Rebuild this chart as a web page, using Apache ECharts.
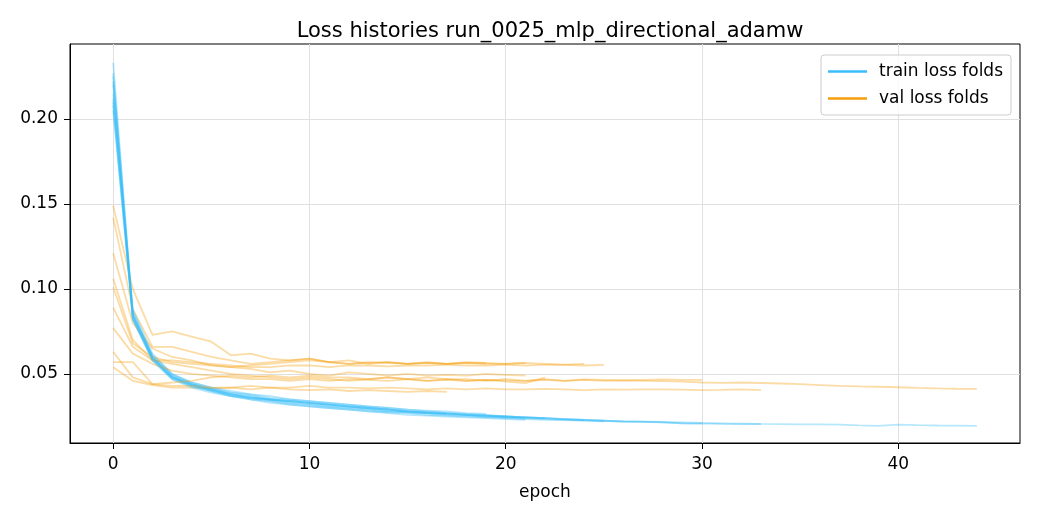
<!DOCTYPE html>
<html>
<head>
    <meta charset="utf-8"/>
    <title>Loss histories</title>
    <script src="https://cdn.jsdelivr.net/npm/echarts@6/dist/echarts.min.js"></script>
    <style>
        html, body { margin: 0; padding: 0; background: #fff; }
        #chart { width: 1040px; height: 520px; }
    </style>
</head>
<body>
<div id="chart"></div>
<script type="text/javascript">
    // per-fold loss histories, index = epoch
    var trainFolds = [
        [0.215, 0.086, 0.060, 0.049, 0.044, 0.041, 0.038, 0.036, 0.035, 0.033, 0.032, 0.031, 0.030, 0.029, 0.028, 0.0275, 0.027, 0.0265],
        [0.233, 0.084, 0.061, 0.050, 0.045, 0.042, 0.040, 0.038, 0.037, 0.035, 0.034, 0.033, 0.032, 0.031, 0.030, 0.029, 0.0285, 0.028, 0.027, 0.0265],
        [0.227, 0.083, 0.059, 0.048, 0.044, 0.041, 0.038, 0.037, 0.035, 0.034, 0.033, 0.032, 0.031, 0.030, 0.029, 0.028, 0.027, 0.0265, 0.026, 0.025, 0.0245, 0.024],
        [0.220, 0.082, 0.058, 0.047, 0.042, 0.039, 0.037, 0.035, 0.034, 0.032, 0.031, 0.030, 0.029, 0.028, 0.027, 0.026, 0.0255, 0.025, 0.0245, 0.024, 0.0235, 0.023],
        [0.212, 0.088, 0.062, 0.050, 0.045, 0.042, 0.039, 0.038, 0.036, 0.035, 0.034, 0.033, 0.032, 0.031, 0.030, 0.029, 0.028, 0.027, 0.0265, 0.026, 0.025, 0.0245, 0.024],
        [0.208, 0.085, 0.060, 0.049, 0.044, 0.041, 0.039, 0.037, 0.035, 0.034, 0.033, 0.032, 0.031, 0.030, 0.029, 0.028, 0.0275, 0.027, 0.026, 0.0255, 0.025, 0.0245, 0.024, 0.0235, 0.023],
        [0.205, 0.084, 0.059, 0.048, 0.043, 0.040, 0.037, 0.035, 0.033, 0.032, 0.031, 0.030, 0.029, 0.028, 0.0275, 0.027, 0.026, 0.0255, 0.025, 0.0245, 0.024, 0.0235, 0.023, 0.0228, 0.0225, 0.0222],
        [0.225, 0.086, 0.060, 0.048, 0.044, 0.041, 0.038, 0.036, 0.035, 0.034, 0.033, 0.032, 0.031, 0.030, 0.029, 0.028, 0.027, 0.0265, 0.026, 0.0255, 0.025, 0.0245, 0.024, 0.0235, 0.023, 0.0225, 0.022, 0.022, 0.0215, 0.021, 0.021],
        [0.210, 0.083, 0.058, 0.047, 0.043, 0.040, 0.037, 0.036, 0.034, 0.033, 0.032, 0.031, 0.030, 0.029, 0.028, 0.0275, 0.027, 0.026, 0.0255, 0.025, 0.0245, 0.024, 0.0235, 0.023, 0.0228, 0.0225, 0.022, 0.0218, 0.0215, 0.021, 0.0208, 0.0206, 0.0205, 0.0205],
        [0.222, 0.082, 0.059, 0.048, 0.043, 0.040, 0.038, 0.036, 0.035, 0.034, 0.033, 0.032, 0.031, 0.030, 0.029, 0.028, 0.0275, 0.027, 0.026, 0.0255, 0.025, 0.0245, 0.024, 0.0235, 0.023, 0.0225, 0.0222, 0.022, 0.0218, 0.0215, 0.0212, 0.021, 0.0208, 0.0206, 0.0205, 0.0204, 0.0203, 0.0202, 0.0198, 0.0195, 0.0202, 0.0199, 0.0197, 0.0196, 0.0195]
    ];
    var valFolds = [
        [0.054, 0.046, 0.0435, 0.042, 0.042, 0.0415, 0.042, 0.041, 0.042, 0.041, 0.0405, 0.041, 0.040, 0.0405, 0.040, 0.0395, 0.040, 0.0395],
        [0.149, 0.100, 0.073, 0.075, 0.072, 0.069, 0.061, 0.062, 0.059, 0.058, 0.059, 0.057, 0.058, 0.056, 0.057, 0.056, 0.057, 0.056, 0.0565, 0.0563],
        [0.142, 0.088, 0.066, 0.066, 0.063, 0.060, 0.058, 0.056, 0.057, 0.058, 0.059, 0.057, 0.056, 0.057, 0.0565, 0.056, 0.0565, 0.056, 0.057, 0.0565, 0.056, 0.0565],
        [0.121, 0.080, 0.065, 0.060, 0.058, 0.055, 0.054, 0.053, 0.051, 0.052, 0.050, 0.049, 0.051, 0.050, 0.049, 0.050, 0.049, 0.0495, 0.049, 0.050, 0.0495, 0.049],
        [0.106, 0.070, 0.058, 0.056, 0.054, 0.052, 0.050, 0.049, 0.048, 0.047, 0.048, 0.047, 0.046, 0.047, 0.048, 0.047, 0.046, 0.047, 0.046, 0.0465, 0.0455, 0.0446, 0.0478],
        [0.101, 0.068, 0.060, 0.057, 0.056, 0.055, 0.054, 0.055, 0.056, 0.057, 0.058, 0.057, 0.056, 0.0565, 0.057, 0.056, 0.0565, 0.056, 0.0565, 0.056, 0.056, 0.0565, 0.056, 0.0555, 0.056],
        [0.089, 0.066, 0.058, 0.058, 0.057, 0.056, 0.055, 0.054, 0.054, 0.055, 0.055, 0.054, 0.055, 0.055, 0.0545, 0.055, 0.055, 0.0555, 0.055, 0.055, 0.0555, 0.055, 0.0555, 0.0553, 0.055, 0.0553],
        [0.077, 0.062, 0.056, 0.052, 0.050, 0.049, 0.048, 0.047, 0.047, 0.046, 0.047, 0.046, 0.047, 0.0465, 0.046, 0.047, 0.046, 0.0465, 0.046, 0.0465, 0.0462, 0.046, 0.0465, 0.046, 0.0468, 0.0465, 0.0462, 0.0465, 0.0468, 0.0465, 0.0465],
        [0.063, 0.048, 0.044, 0.043, 0.043, 0.042, 0.042, 0.043, 0.042, 0.042, 0.043, 0.042, 0.042, 0.0415, 0.042, 0.0415, 0.041, 0.0415, 0.041, 0.0415, 0.041, 0.041, 0.0412, 0.041, 0.0405, 0.041, 0.0408, 0.041, 0.041, 0.0408, 0.0405, 0.0407, 0.041, 0.0405],
        [0.057, 0.057, 0.044, 0.045, 0.046, 0.048, 0.049, 0.048, 0.049, 0.048, 0.049, 0.048, 0.048, 0.047, 0.048, 0.047, 0.048, 0.047, 0.047, 0.046, 0.047, 0.046, 0.047, 0.046, 0.0465, 0.046, 0.0462, 0.046, 0.0458, 0.0455, 0.045, 0.0448, 0.045, 0.0447, 0.0444, 0.044, 0.0435, 0.043, 0.0427, 0.0425, 0.0422, 0.0418, 0.0415, 0.0413, 0.0412]
    ];
    var xTicks = [0, 10, 20, 30, 40];
    var yTicks = [0.05, 0.10, 0.15, 0.20];

    var trainName = 'train loss folds';
    var valName = 'val loss folds';
    var trainColor = '#38bdf8';
    var valColor = '#f59e0b';
    var font = 'DejaVu Sans';

    function toPoints(arr) {
        return arr.map(function (v, i) { return [i, v]; });
    }

    function foldSeries(name, color, values) {
        return {
            name: name,
            type: 'line',
            data: toPoints(values),
            symbol: 'none',
            showSymbol: false,
            silent: true,
            color: color,
            lineStyle: { color: color, width: 1.8, opacity: 0.36 },
            emphasis: { disabled: true }
        };
    }

    var series = [];
    for (var k = 0; k < trainFolds.length; k++) {
        series.push(foldSeries(trainName, trainColor, trainFolds[k]));
        series.push(foldSeries(valName, valColor, valFolds[k]));
    }

    var option = {
        animation: false,
        title: {
            text: 'Loss histories run_0025_mlp_directional_adamw',
            left: 545,
            textAlign: 'center',
            top: 16,
            textStyle: { fontFamily: font, fontSize: 21, fontWeight: 'normal', color: '#000' }
        },
        legend: {
            orient: 'vertical',
            right: 29,
            top: 55,
            padding: [8, 8, 8, 7],
            icon: 'rect',
            itemWidth: 39,
            itemHeight: 2.5,
            itemGap: 10,
            backgroundColor: 'rgba(255,255,255,0.8)',
            borderColor: '#cccccc',
            borderWidth: 1,
            borderRadius: 3,
            textStyle: { fontFamily: font, fontSize: 17, color: '#000', lineHeight: 17, padding: [0, 0, 0, 7] },
            data: [
                { name: trainName, itemStyle: { color: trainColor, opacity: 1, borderWidth: 0 } },
                { name: valName, itemStyle: { color: valColor, opacity: 1, borderWidth: 0 } }
            ]
        },
        grid: {
            left: 70, right: 20, top: 44, bottom: 77,
            show: true, borderColor: '#000', borderWidth: 1, backgroundColor: 'transparent'
        },
        xAxis: {
            type: 'value',
            min: -2.2,
            max: 46.2,
            name: 'epoch',
            nameLocation: 'middle',
            nameGap: 41,
            nameTextStyle: { fontFamily: font, fontSize: 17, color: '#000' },
            axisLine: { show: true, onZero: false, lineStyle: { color: '#000', width: 1 } },
            axisTick: { show: true, length: 6, customValues: xTicks, lineStyle: { color: '#000' } },
            axisLabel: { customValues: xTicks, margin: 13, fontFamily: font, fontSize: 17, color: '#000' },
            splitLine: { show: true, customValues: xTicks, lineStyle: { color: '#e0e0e0', width: 1 } }
        },
        yAxis: {
            type: 'value',
            min: 0.0094,
            max: 0.2441,
            axisLine: { show: true, onZero: false, lineStyle: { color: '#000', width: 1 } },
            axisTick: { show: true, length: 6, customValues: yTicks, lineStyle: { color: '#000' } },
            axisLabel: {
                customValues: yTicks, margin: 12, fontFamily: font, fontSize: 17, color: '#000',
                formatter: function (v) { return v.toFixed(2); }
            },
            splitLine: { show: true, customValues: yTicks, lineStyle: { color: '#e0e0e0', width: 1 } }
        },
        series: series
    };

    var chart = echarts.init(document.getElementById('chart'));
    chart.setOption(option);
</script>
</body>
</html>
